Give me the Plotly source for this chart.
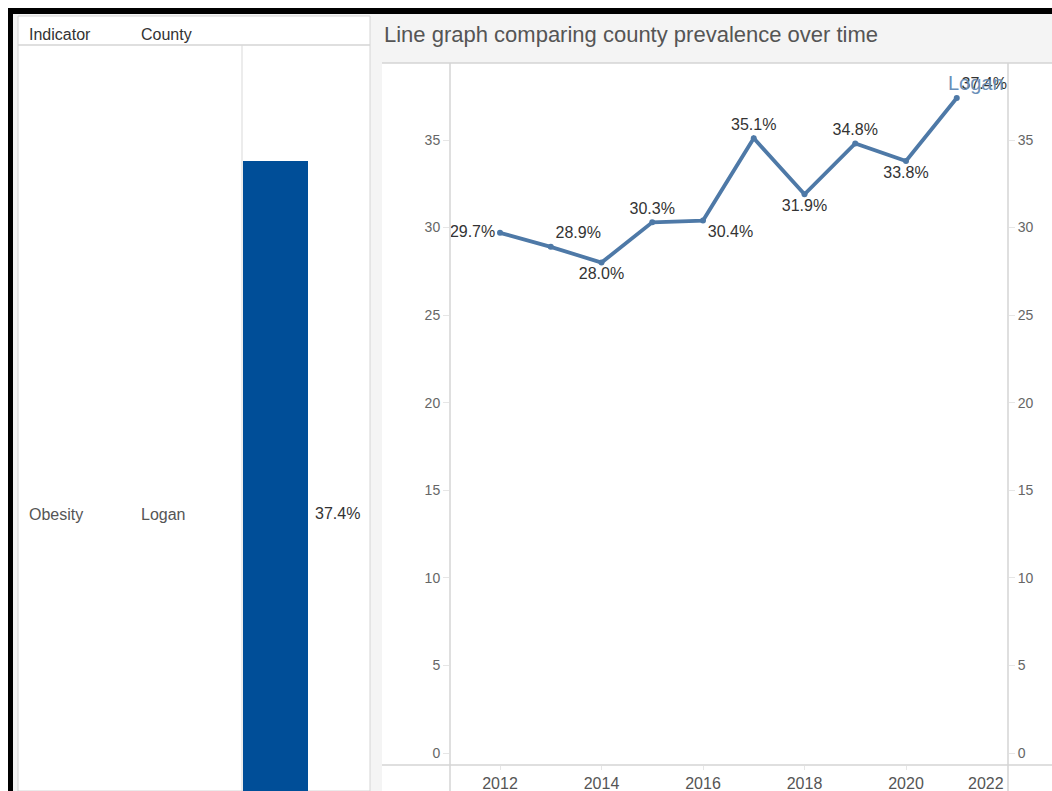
import plotly.graph_objects as go

# ---------------- data ----------------
indicator = ["Obesity"]
county = ["Logan"]
latest_value = [37.4]

years = [2012, 2013, 2014, 2015, 2016, 2017, 2018, 2019, 2020, 2021]
prevalence = [29.7, 28.9, 28.0, 30.3, 30.4, 35.1, 31.9, 34.8, 33.8, 37.4]
label_pos = ["middle left", "top right", "bottom center", "top center", "bottom right",
             "top center", "bottom center", "top center", "bottom center", "top right"]

y_ticks = [0, 5, 10, 15, 20, 25, 30, 35]
x_ticks = [2012, 2014, 2016, 2018, 2020]
x_last_tick = 2022
title = "Line graph comparing county prevalence over time"

W, H = 1052, 791
def px(x): return x / W
def py(y): return 1 - y / H

FONT = "Liberation Sans, Arial, sans-serif"
LINE = "#4e79a7"

fig = go.Figure()

# bar chart (left panel)
fig.add_trace(go.Bar(
    x=[0], y=latest_value, width=[1.0],
    marker=dict(color="#004e98", line=dict(width=0)),
    xaxis="x", yaxis="y", hoverinfo="skip", showlegend=False))

# line chart
fig.add_trace(go.Scatter(
    x=years, y=prevalence, mode="lines+markers+text",
    line=dict(color=LINE, width=3.8),
    marker=dict(color=LINE, size=6),
    text=[f"{v:.1f}%" for v in prevalence],
    textposition=label_pos,
    textfont=dict(family=FONT, size=16, color="#333333"),
    xaxis="x2", yaxis="y2", showlegend=False, cliponaxis=False))

# invisible trace for right axis
fig.add_trace(go.Scatter(x=[years[0]], y=[prevalence[0]], mode="markers",
                         marker=dict(opacity=0), xaxis="x2", yaxis="y3",
                         showlegend=False, hoverinfo="skip"))

shapes = []
# black frame
shapes.append(dict(type="rect", xref="paper", yref="paper", x0=px(0), x1=px(W), y0=py(14), y1=py(8),
                   fillcolor="black", line=dict(width=0), layer="below"))
shapes.append(dict(type="rect", xref="paper", yref="paper", x0=px(8), x1=px(13), y0=py(791), y1=py(8),
                   fillcolor="black", line=dict(width=0), layer="below"))
shapes.append(dict(type="rect", xref="paper", yref="paper", x0=px(0), x1=px(W), y0=py(8), y1=py(0),
                   fillcolor="white", line=dict(width=0), layer="below"))
shapes.append(dict(type="rect", xref="paper", yref="paper", x0=px(0), x1=px(8), y0=py(791), y1=py(0),
                   fillcolor="white", line=dict(width=0), layer="below"))
# left panel
shapes.append(dict(type="rect", xref="paper", yref="paper", x0=px(18), x1=px(370), y0=py(791), y1=py(16),
                   fillcolor="white", line=dict(color="#d4d4d4", width=1), layer="below"))
shapes.append(dict(type="line", xref="paper", yref="paper", x0=px(18), x1=px(370), y0=py(45), y1=py(45),
                   line=dict(color="#d4d4d4", width=1.5)))
shapes.append(dict(type="line", xref="paper", yref="paper", x0=px(242), x1=px(242), y0=py(791), y1=py(45),
                   line=dict(color="#d9d9d9", width=1)))
# right panel plot area
shapes.append(dict(type="rect", xref="paper", yref="paper", x0=px(382), x1=px(W), y0=py(791), y1=py(63),
                   fillcolor="white", line=dict(width=0), layer="below"))
shapes.append(dict(type="line", xref="paper", yref="paper", x0=px(382), x1=px(W), y0=py(63), y1=py(63),
                   line=dict(color="#d4d4d4", width=1.5)))
shapes.append(dict(type="line", xref="paper", yref="paper", x0=px(382), x1=px(W), y0=py(765), y1=py(765),
                   line=dict(color="#d4d4d4", width=1.5)))
shapes.append(dict(type="line", xref="paper", yref="paper", x0=px(450), x1=px(450), y0=py(791), y1=py(63),
                   line=dict(color="#d4d4d4", width=1.5)))
shapes.append(dict(type="line", xref="paper", yref="paper", x0=px(1008), x1=px(1008), y0=py(791), y1=py(63),
                   line=dict(color="#d4d4d4", width=1.5)))

tickfont = dict(family=FONT, size=14, color="#666666")
xtickfont = dict(family=FONT, size=16, color="#555555")

annotations = [
    dict(text="Indicator", x=px(27), y=py(34), xref="paper", yref="paper", xanchor="left", yanchor="middle",
         showarrow=False, font=dict(family=FONT, size=16, color="#333333")),
    dict(text="County", x=px(139), y=py(34), xref="paper", yref="paper", xanchor="left", yanchor="middle",
         showarrow=False, font=dict(family=FONT, size=16, color="#333333")),
    dict(text=indicator[0], x=px(27), y=py(514), xref="paper", yref="paper", xanchor="left", yanchor="middle",
         showarrow=False, font=dict(family=FONT, size=16, color="#555555")),
    dict(text=county[0], x=px(139), y=py(514), xref="paper", yref="paper", xanchor="left", yanchor="middle",
         showarrow=False, font=dict(family=FONT, size=16, color="#555555")),
    dict(text=f"{latest_value[0]:.1f}%", x=0.5, y=latest_value[0] / 2, xref="x", yref="y",
         xanchor="left", yanchor="middle", xshift=5, showarrow=False,
         font=dict(family=FONT, size=16, color="#333333")),
    dict(text=title, x=px(382), y=py(34), xref="paper", yref="paper", xanchor="left", yanchor="middle",
         showarrow=False, font=dict(family=FONT, size=22, color="#555555")),
    dict(text=county[0], x=years[-1], y=prevalence[-1], xref="x2", yref="y2", xanchor="left", yanchor="bottom",
         xshift=-11, yshift=2, showarrow=False, font=dict(family=FONT, size=20, color="#6a8fb8")),
    dict(text=str(x_last_tick), x=x_last_tick, y=py(783), xref="x2", yref="paper",
         xanchor="right", yanchor="middle", xshift=-2, showarrow=False, font=xtickfont),
]

# bar axis mapping: value 0 at y=865px, 37.4 at y=161px
ppu = (865 - 161) / latest_value[0]
bar_range = [(865 - 791) / ppu, (865 - 45) / ppu]

# line axes: 0 at y=753, 35 at y=140
lppu = (753 - 140) / 35
y2_range = [(753 - 765) / lppu, (753 - 63) / lppu]
xppu = 50.75
x2_range = [2012 - (500 - 450) / xppu, 2012 + (1008 - 500) / xppu]

fig.update_layout(
    width=W, height=H,
    margin=dict(l=0, r=0, t=0, b=0),
    paper_bgcolor="#f4f4f4", plot_bgcolor="rgba(0,0,0,0)",
    bargap=0,
    xaxis=dict(domain=[px(243), px(308)], range=[-0.5, 0.5], visible=False, fixedrange=True),
    yaxis=dict(domain=[0, py(45)], range=bar_range, visible=False, anchor="x"),
    xaxis2=dict(domain=[px(450), px(1008)], range=x2_range, anchor="y2",
                tickvals=x_ticks, ticktext=[str(t) for t in x_ticks],
                showgrid=False, zeroline=False, showline=False,
                ticks="outside", ticklen=4, tickcolor="#e6e6e6",
                tickfont=xtickfont, side="bottom"),
    yaxis2=dict(domain=[py(765), py(63)], range=y2_range, anchor="x2",
                tickvals=y_ticks, showgrid=False, zeroline=False, showline=False,
                ticks="outside", ticklen=6, tickcolor="#e6e6e6", tickfont=tickfont),
    yaxis3=dict(domain=[py(765), py(63)], range=y2_range, anchor="x2", overlaying="y2", side="right",
                tickvals=y_ticks, showgrid=False, zeroline=False, showline=False,
                ticks="outside", ticklen=6, tickcolor="#e6e6e6", tickfont=tickfont),
    shapes=shapes,
    annotations=annotations,
)

fig.write_html("out.html", config={"displayModeBar": False},
               post_script="document.body.style.margin='0';document.body.style.overflow='hidden';")
